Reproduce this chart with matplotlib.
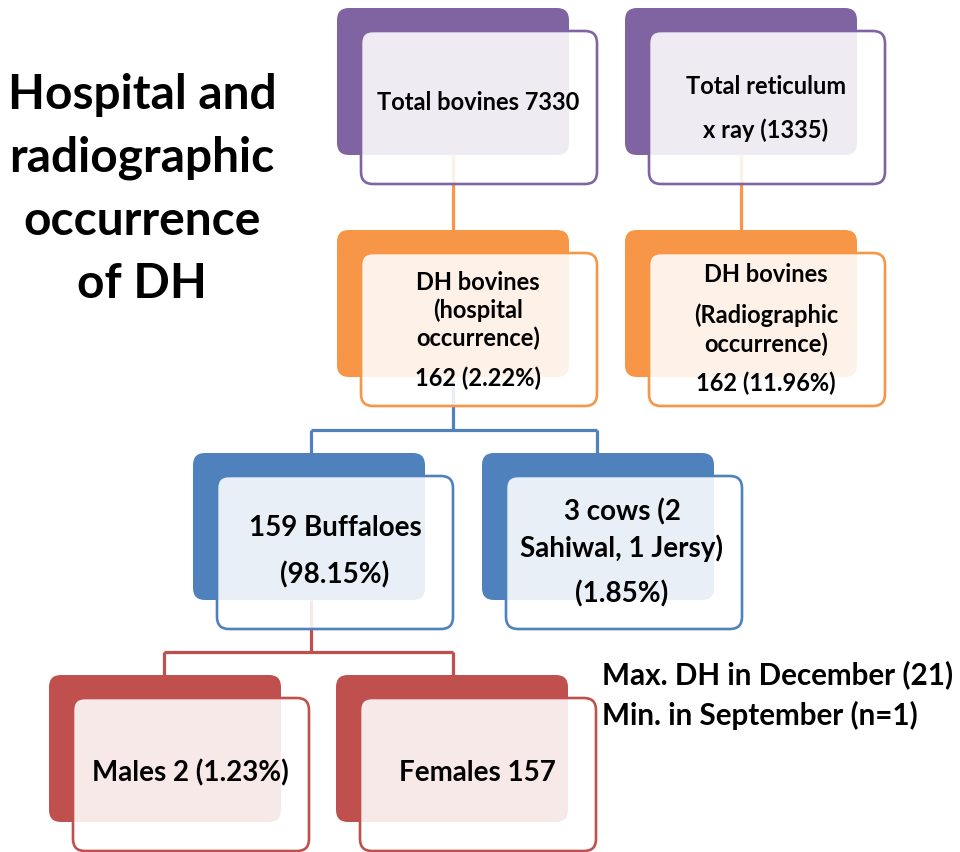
import matplotlib
matplotlib.use("Agg")
import matplotlib.pyplot as plt
from matplotlib.patches import FancyBboxPatch

plt.rcParams['font.family'] = ['Lato', 'DejaVu Sans']

# ---- content ----
title_lines = ["Hospital and", "radiographic", "occurrence", "of DH"]
node_texts = [
    ["Total bovines 7330"],
    ["Total reticulum", "x ray (1335)"],
    ["DH bovines", "(hospital", "occurrence)", "162 (2.22%)"],
    ["DH bovines", "(Radiographic", "occurrence)", "162 (11.96%)"],
    ["159 Buffaloes", "(98.15%)"],
    ["3 cows (2", "Sahiwal, 1 Jersy)", "(1.85%)"],
    ["Males 2 (1.23%)"],
    ["Females 157"],
]
side_notes = ["Max. DH in December (21)", "Min. in September (n=1)"]

# ---- layout (pixel coordinates) ----
PURPLE, ORANGE, BLUE, RED = "#8064A2", "#F79646", "#4F81BD", "#C0504D"
nodes = [
    dict(x=337, y=8, c=PURPLE, ty=[102], cx=478, fs=17),
    dict(x=625, y=8, c=PURPLE, ty=[87, 130], cx=766, fs=17),
    dict(x=337, y=230, c=ORANGE, ty=[282, 310, 338, 378], cx=478, fs=17),
    dict(x=625, y=230, c=ORANGE, ty=[275, 315, 344, 383], cx=766, fs=17),
    dict(x=193, y=453, c=BLUE, ty=[528, 575], cx=335, fs=20),
    dict(x=482, y=453, c=BLUE, ty=[512, 548, 594], cx=622, fs=20),
    dict(x=49, y=675, c=RED, ty=[773], cx=190, fs=20),
    dict(x=336, y=675, c=RED, ty=[773], cx=477, fs=20),
]
BW, BH = 232, 147
FW, FH = 236, 153
DX, DY = 24, 23

fig = plt.figure(figsize=(9.6, 8.52), dpi=100)
ax = fig.add_axes([0, 0, 1, 1])
ax.set_xlim(0, 960)
ax.set_ylim(852, 0)
ax.axis("off")

def seg(xs, ys, c):
    ax.plot(xs, ys, color=c, lw=2.3, zorder=1, solid_capstyle="butt")

seg([453, 453], [150, 232], ORANGE)
seg([741, 741], [150, 232], ORANGE)
seg([453, 453], [380, 430], BLUE)
seg([311, 597], [430, 430], BLUE)
seg([311, 311], [430, 455], BLUE)
seg([597, 597], [430, 455], BLUE)
seg([311, 311], [600, 652], RED)
seg([164, 453], [652, 652], RED)
seg([164, 164], [652, 677], RED)
seg([453, 453], [652, 677], RED)

for n, texts in zip(nodes, node_texts):
    x, y, c = n["x"], n["y"], n["c"]
    ax.add_patch(FancyBboxPatch((x, y), BW, BH,
                                boxstyle="round,pad=0,rounding_size=12",
                                fc=c, ec="none", zorder=2))
    ax.add_patch(FancyBboxPatch((x + DX, y + DY), FW, FH,
                                boxstyle="round,pad=0,rounding_size=12",
                                fc=(1, 1, 1, 0.88), ec=c, lw=1.9, zorder=3))
    for t, ty in zip(texts, n["ty"]):
        ax.text(n["cx"], ty, t, ha="center", va="center", fontsize=n["fs"],
                fontweight="bold", color="black", zorder=4)

for i, t in enumerate(title_lines):
    ax.text(142, 95 + i * 63, t, ha="center", va="center", fontsize=34.5,
            fontweight="bold", color="black")

for i, t in enumerate(side_notes):
    ax.text(602, 675 + i * 40, t, ha="left", va="center", fontsize=21.3,
            fontweight="bold", color="black")

fig.savefig("out.png", dpi=100)
